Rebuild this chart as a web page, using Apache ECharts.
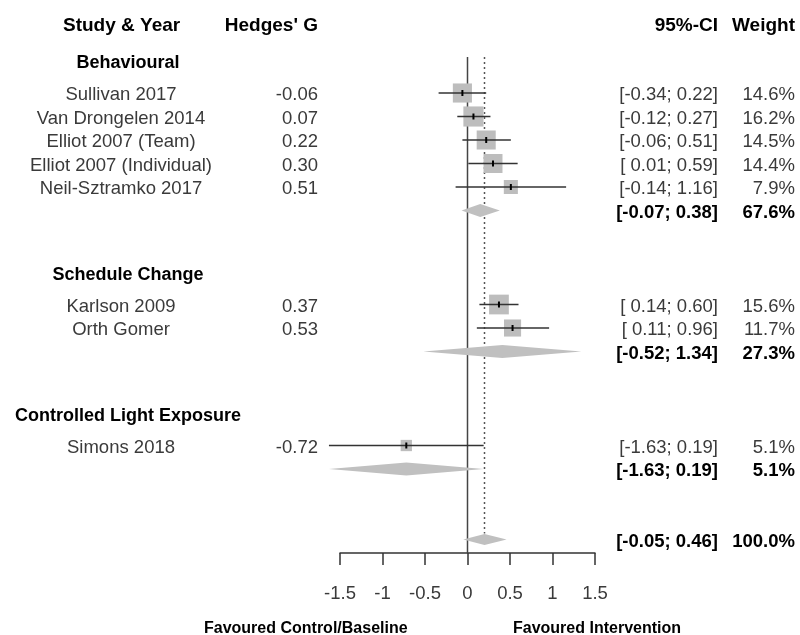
<!DOCTYPE html>
<html>
<head>
<meta charset="utf-8">
<script src="https://cdn.jsdelivr.net/npm/echarts@6/dist/echarts.min.js"></script>
<style>
html, body { margin: 0; padding: 0; background: #fff; }
#chart { width: 800px; height: 635px; }
</style>
</head>
<body>
<div id="chart"></div>
<script>
// studies
var studies = ['Sullivan 2017', 'Van Drongelen 2014', 'Elliot 2007 (Team)', 'Elliot 2007 (Individual)',
  'Neil-Sztramko 2017', 'Karlson 2009', 'Orth Gomer', 'Simons 2018'];
var studyGroup = [0, 0, 0, 0, 0, 1, 1, 2];
var hedgesG = [-0.06, 0.07, 0.22, 0.30, 0.51, 0.37, 0.53, -0.72];
var ciLow = [-0.34, -0.12, -0.06, 0.01, -0.14, 0.14, 0.11, -1.63];
var ciHigh = [0.22, 0.27, 0.51, 0.59, 1.16, 0.60, 0.96, 0.19];
var weights = [14.6, 16.2, 14.5, 14.4, 7.9, 15.6, 11.7, 5.1];

// subgroups
var groups = ['Behavioural', 'Schedule Change', 'Controlled Light Exposure'];
var groupEst = [0.15, 0.41, -0.72];
var groupLow = [-0.07, -0.52, -1.63];
var groupHigh = [0.38, 1.34, 0.19];
var groupWeight = [67.6, 27.3, 5.1];

// overall
var overallEst = 0.20;
var overallLow = -0.05;
var overallHigh = 0.46;

var xTicks = [-1.5, -1, -0.5, 0, 0.5, 1, 1.5];

var FONT = 'Liberation Sans, Arial, sans-serif';
var TXT = '#3a3a3a';

function fmt(v) { return (v >= 0 ? ' ' : '') + v.toFixed(2); }
function ci(lo, hi) { return '[' + fmt(lo) + '; ' + hi.toFixed(2) + ']'; }

// row layout (one row = one line of the table)
var studyRows = [], groupHeadRows = [], groupSumRows = [];
var row = 0;
groups.forEach(function (g, gi) {
  groupHeadRows.push(row - 1.35);
  studies.forEach(function (s, i) {
    if (studyGroup[i] === gi) { studyRows[i] = row; row++; }
  });
  groupSumRows.push(row);
  row += (gi < groups.length - 1) ? 4 : 3;
});
var overallRow = row;

// text lines drawn against the y scale
var textRows = [];
studies.forEach(function (s, i) {
  textRows.push({ row: studyRows[i], bold: false, cols: [s, hedgesG[i].toFixed(2), ci(ciLow[i], ciHigh[i]), weights[i].toFixed(1) + '%'] });
});
groups.forEach(function (g, gi) {
  textRows.push({ row: groupHeadRows[gi], bold: true, head: true, cols: [g, '', '', ''] });
  textRows.push({ row: groupSumRows[gi], bold: true, cols: ['', '', ci(groupLow[gi], groupHigh[gi]), groupWeight[gi].toFixed(1) + '%'] });
});
textRows.push({ row: overallRow, bold: true, cols: ['', '', ci(overallLow, overallHigh), '100.0%'] });

var chart = echarts.init(document.getElementById('chart'));

var option = {
  animation: false,
  grid: { left: 340, right: 205, top: 57, bottom: 82 },
  xAxis: {
    type: 'value', min: -1.5, max: 1.5, interval: 0.5,
    axisLine: { onZero: false, lineStyle: { color: '#333', width: 1.5 } },
    axisTick: { length: 12, lineStyle: { color: '#333', width: 1.5 } },
    splitLine: { show: false },
    axisLabel: {
      margin: 31, color: TXT, fontSize: 18.5, fontFamily: FONT,
      formatter: function (v) {
        var t = xTicks.filter(function (k) { return Math.abs(k - v) < 1e-9; });
        return t.length ? String(t[0]) : '';
      }
    }
  },
  yAxis: { type: 'value', inverse: true, min: -1.532, max: 19.574, show: false },
  graphic: [
    { type: 'text', left: 63, top: 16, style: { text: 'Study & Year', font: 'bold 19px ' + FONT, fill: '#000' } },
    { type: 'text', right: 482, top: 16, style: { text: "Hedges' G", font: 'bold 19px ' + FONT, fill: '#000' } },
    { type: 'text', right: 82, top: 16, style: { text: '95%-CI', font: 'bold 19px ' + FONT, fill: '#000' } },
    { type: 'text', right: 5, top: 16, style: { text: 'Weight', font: 'bold 19px ' + FONT, fill: '#000' } },
    { type: 'text', left: 204, top: 621, style: { text: 'Favoured Control/Baseline', font: 'bold 16px ' + FONT, fill: '#000' } },
    { type: 'text', left: 513, top: 621, style: { text: 'Favoured Intervention', font: 'bold 16px ' + FONT, fill: '#000' } }
  ],
  series: [
    {
      // reference lines: no effect and overall estimate
      type: 'custom', silent: true,
      data: [[0, 0]],
      renderItem: function (params, api) {
        var cs = params.coordSys;
        var x0 = api.coord([0, 0])[0];
        var xe = api.coord([overallEst, 0])[0];
        var yEnd = api.coord([0, overallRow])[1] - 6;
        return {
          type: 'group', children: [
            { type: 'line', shape: { x1: x0, y1: cs.y, x2: x0, y2: cs.y + cs.height }, style: { stroke: '#444', lineWidth: 1.5 } },
            { type: 'line', shape: { x1: xe, y1: cs.y, x2: xe, y2: yEnd }, style: { stroke: '#555', lineWidth: 1.5, lineDash: [2, 3] } }
          ]
        };
      }
    },
    {
      // summary diamonds
      type: 'custom', silent: true,
      data: groupEst.map(function (e, gi) { return [e, groupSumRows[gi], groupLow[gi], groupHigh[gi]]; })
        .concat([[overallEst, overallRow, overallLow, overallHigh]]),
      renderItem: function (params, api) {
        var c = api.coord([api.value(0), api.value(1)]);
        var l = api.coord([api.value(2), api.value(1)]);
        var r = api.coord([api.value(3), api.value(1)]);
        var h = params.dataIndex === groups.length ? 5.5 : 6.5;
        return {
          type: 'polygon',
          shape: { points: [[l[0], c[1]], [c[0], c[1] - h], [r[0], c[1]], [c[0], c[1] + h]] },
          style: { fill: '#c0c0c0' }
        };
      }
    },
    {
      // study squares + CI
      type: 'custom', silent: true,
      data: studies.map(function (s, i) { return [hedgesG[i], studyRows[i], ciLow[i], ciHigh[i], weights[i]]; }),
      renderItem: function (params, api) {
        var c = api.coord([api.value(0), api.value(1)]);
        var l = api.coord([api.value(2), api.value(1)]);
        var r = api.coord([api.value(3), api.value(1)]);
        var s = 5 * Math.sqrt(api.value(4));
        return {
          type: 'group', children: [
            { type: 'rect', shape: { x: c[0] - s / 2, y: c[1] - s / 2, width: s, height: s }, style: { fill: '#bdbdbd' } },
            { type: 'line', shape: { x1: l[0], y1: c[1], x2: r[0], y2: c[1] }, style: { stroke: '#333', lineWidth: 1.5 } },
            { type: 'line', shape: { x1: c[0], y1: c[1] - 3, x2: c[0], y2: c[1] + 3 }, style: { stroke: '#000', lineWidth: 2 } }
          ]
        };
      }
    },
    {
      // table text
      type: 'custom', silent: true,
      data: textRows.map(function (t) { return [0, t.row]; }),
      renderItem: function (params, api) {
        var t = textRows[params.dataIndex];
        var y = api.coord([0, t.row])[1] + 2;
        var font = (t.bold ? 'bold ' : '') + (t.head ? '18px ' : '18.5px ') + FONT;
        var col = t.bold ? '#000' : TXT;
        var xs = [t.head ? 128 : 121, 318, 718, 795];
        var al = ['center', 'right', 'right', 'right'];
        return {
          type: 'group',
          children: t.cols.map(function (txt, k) {
            return { type: 'text', style: { text: txt, x: xs[k], y: y, font: font, fill: col, textAlign: al[k], textVerticalAlign: 'middle' } };
          })
        };
      }
    }
  ]
};
chart.setOption(option);
</script>
</body>
</html>
